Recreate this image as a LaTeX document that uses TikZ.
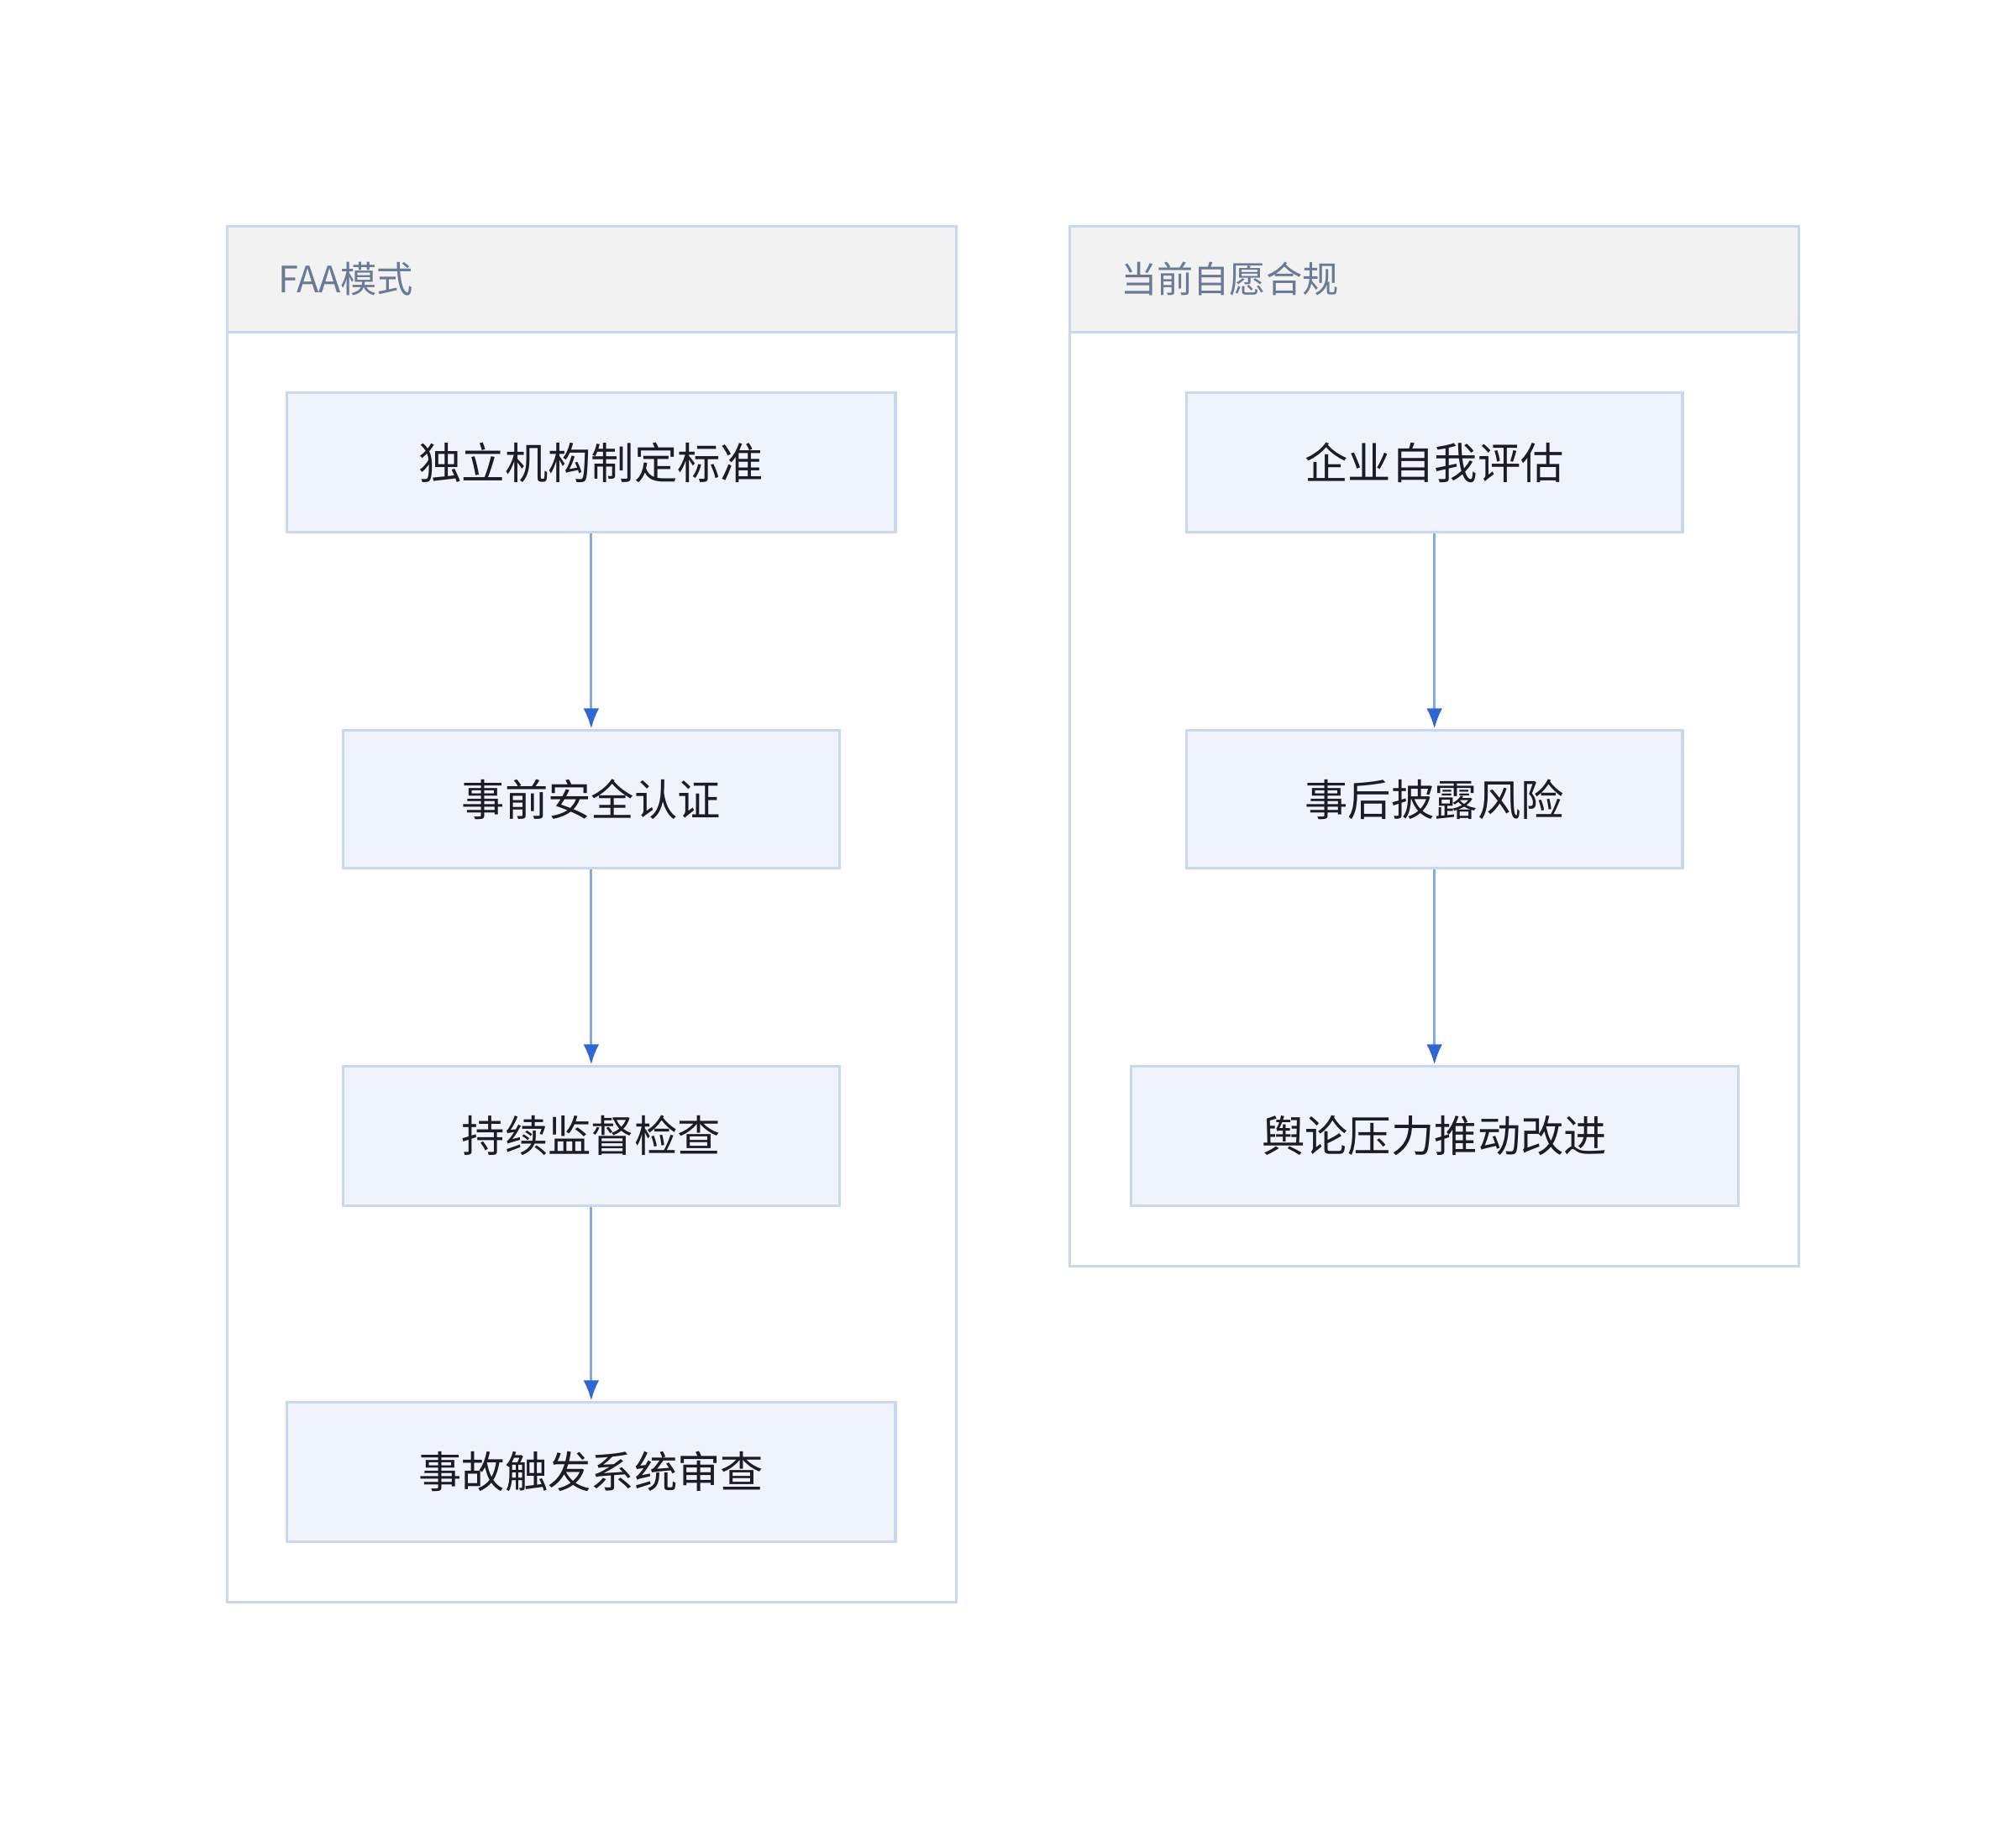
\documentclass[tikz,border=0pt]{standalone}
\usepackage{fontspec}
\setmainfont{Noto Sans CJK SC}
\usetikzlibrary{positioning,arrows.meta}
\definecolor{edgeblue}{HTML}{C9D8F0}
\definecolor{boxfill}{HTML}{EFF4FC}
\definecolor{headfill}{HTML}{F2F2F2}
\definecolor{headtext}{HTML}{6B7A94}
\definecolor{lineblue}{HTML}{88A8E8}
\definecolor{tipblue}{HTML}{2F66D8}
\definecolor{bodytext}{HTML}{1C1C28}
\tikzset{
  stage/.style={draw=edgeblue,line width=1.2pt,fill=boxfill,text=bodytext,font=\fontsize{19}{22}\selectfont,inner sep=0pt},
  flow/.style={draw=lineblue,line width=1.2pt,-{Latex[length=9pt,width=7pt,color=tipblue]}},
  panel/.style={draw=edgeblue,line width=1.2pt},
  head/.style={draw=edgeblue,line width=1.2pt,fill=headfill},
  headlabel/.style={text=headtext,font=\fontsize{16}{19}\selectfont,anchor=west}
}
\begin{document}
\begin{tikzpicture}[x=0.02cm,y=-0.02cm]
	\useasboundingbox (0,0) rectangle (1560,1409);
	% FAA cluster
	\draw[panel] (176,175) rectangle (740,1240);
	\draw[head] (176,175) rectangle (740,257);
	\node[headlabel] (faa) at (209,216) {FAA模式};
	\node[stage,minimum width=9.42cm,minimum height=2.16cm] (s1) at (457.5,358) {独立机构制定标准};
	\node[stage,minimum width=7.68cm,minimum height=2.14cm] (s2) at (457.5,618.5) {事前安全认证};
	\node[stage,minimum width=7.68cm,minimum height=2.16cm] (s3) at (457.5,879) {持续监督检查};
	\node[stage,minimum width=9.42cm,minimum height=2.16cm] (s4) at (457.5,1139) {事故触发系统审查};
	\draw[flow] (s1) -- (s2);
	\draw[flow] (s2) -- (s3);
	\draw[flow] (s3) -- (s4);
	% voluntary cluster
	\draw[panel] (828,175) rectangle (1392,980);
	\draw[head] (828,175) rectangle (1392,257);
	\node[headlabel] (vol) at (861,216) {当前自愿合规};
	\node[stage,minimum width=7.68cm,minimum height=2.16cm] (v1) at (1110,358) {企业自我评估};
	\node[stage,minimum width=7.68cm,minimum height=2.14cm] (v2) at (1110,618.5) {事后披露风险};
	\node[stage,minimum width=9.4cm,minimum height=2.16cm] (v3) at (1110,879) {舆论压力推动改进};
	\draw[flow] (v1) -- (v2);
	\draw[flow] (v2) -- (v3);
\end{tikzpicture}
\end{document}
